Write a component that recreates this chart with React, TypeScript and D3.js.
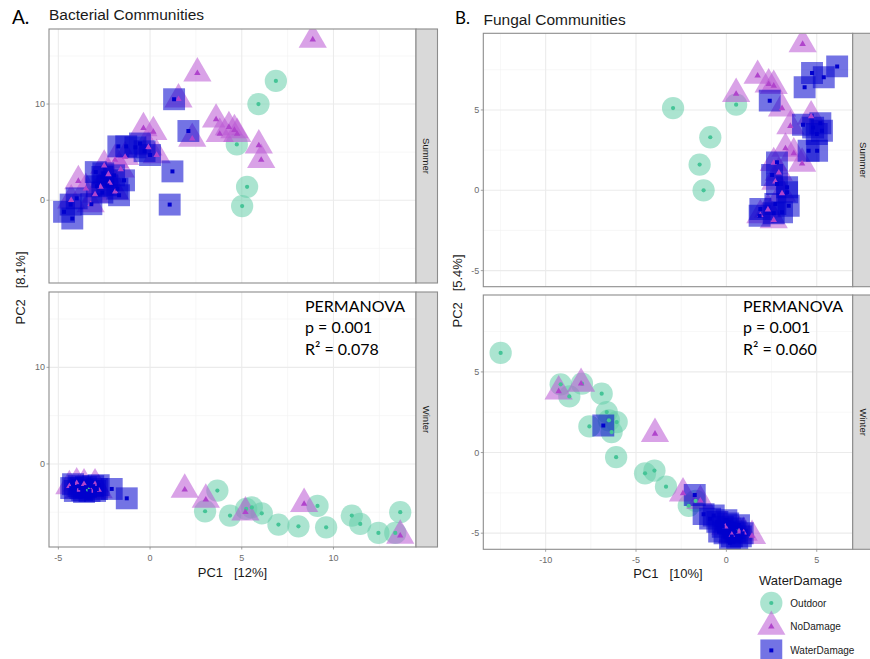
import React from "react";
import * as d3 from "d3";

// ---------- DATA ----------
const groups = ["Outdoor", "NoDamage", "WaterDamage"];
const seasons = ["Summer", "Winter"];

const bactSummerOutdoor = [[6.86,12.4],[5.91,10.0],[4.73,5.8],[5.29,1.4],[5.02,-0.6]];
const bactSummerNoDamage = [[8.87,16.7],[2.58,13.2],[1.55,10.5],[3.6,8.4],[3.8,6.9],[4.3,7.6],[4.6,7.3],[4.75,6.9],[5.93,5.7],[6.06,4.2],[2.3,6.4],[-0.36,7.5],[0.18,7.1],[-0.09,5.5],[0.36,4.7],[-1.91,4.2],[-1.36,4.5],[-2.27,2.7],[-3.91,2.0],[-3.24,-0.4],[-4.3,0.0],[-3.0,0.6],[-2.7,1.4],[-2.2,1.8],[-1.9,0.9],[-1.6,3.2],[-2.5,3.6],[-3.5,1.2]];
const bactSummerWater = [[-4.69,-1.2],[-4.24,-1.9],[-4.33,-0.45],[-4.0,0.2],[-3.2,-0.41],[-2.96,2.93],[-2.6,2.42],[-2.33,1.55],[-1.96,2.59],[-1.78,1.21],[-1.42,2.07],[-1.69,0.52],[-2.9,1.45],[-2.55,2.8],[-2.6,0.8],[-1.73,5.6],[-1.3,5.6],[-0.8,5.5],[-0.3,5.1],[0.0,4.7],[-0.55,5.9],[1.31,10.5],[2.09,7.2],[1.22,3.0],[1.07,-0.45]];

const bactWinterOutdoor = [[-3.38,-2.66],[3.67,-2.76],[3.0,-4.9],[4.36,-5.35],[5.24,-4.66],[5.55,-4.5],[6.09,-5.11],[7.0,-6.28],[8.09,-6.46],[9.13,-4.35],[9.6,-6.56],[11.0,-5.35],[11.46,-6.21],[12.45,-7.14],[13.64,-5.0],[13.37,-7.14]];
const bactWinterNoDamage = [[1.89,-2.66],[3.04,-3.7],[5.2,-5.0],[8.4,-4.14],[13.64,-7.42],[-4.4,-2.3],[-4.0,-2.0],[-3.6,-2.1],[-3.2,-2.8],[-2.8,-2.7],[-3.9,-2.7],[-3.0,-2.1]];
const bactWinterWater = [[-4.3,-2.5],[-4.1,-2.8],[-3.9,-2.3],[-3.7,-2.7],[-3.5,-2.4],[-3.3,-2.8],[-3.1,-2.3],[-2.9,-2.6],[-4.2,-2.1],[-3.6,-2.9],[-3.0,-2.8],[-2.8,-2.2],[-3.8,-2.5],[-2.09,-2.59],[-1.27,-3.56]];

const fungSummerOutdoor = [[-2.95,5.12],[-0.89,3.3],[-1.48,1.6],[-1.26,0.0],[0.54,5.33]];
const fungSummerNoDamage = [[4.22,9.1],[0.54,6.0],[1.73,7.13],[2.34,6.6],[2.62,6.5],[3.08,5.1],[3.54,4.0],[4.69,4.6],[3.27,2.6],[3.73,2.3],[4.19,1.66],[2.62,1.7],[2.71,0.54],[3.08,-0.2],[1.88,-1.55],[2.62,-1.85],[2.3,-1.2],[2.9,1.1]];
const fungSummerWater = [[4.74,7.3],[5.39,7.03],[6.13,7.71],[4.33,6.41],[2.4,5.58],[4.24,4.08],[5.2,4.17],[5.29,3.71],[4.55,2.46],[5.02,2.46],[2.8,1.74],[2.53,0.95],[2.8,0.39],[3.36,0.19],[3.36,-0.12],[2.71,-0.85],[3.45,-0.96],[1.88,-1.16],[1.84,-1.58],[2.62,-1.43],[3.08,-1.37],[5.0,3.5],[4.8,3.9]];

const fungWinterOutdoor = [[-12.49,6.18],[-9.17,4.23],[-8.69,3.48],[-7.99,4.27],[-6.9,3.65],[-6.62,2.51],[-7.58,1.62],[-6.07,1.89],[-6.35,1.27],[-6.5,2.0],[-6.1,-0.29],[-4.5,-1.29],[-3.98,-1.12],[-3.34,-2.12],[-2.08,-3.3],[0.59,-4.9],[-1.7,-3.0]];
const fungWinterNoDamage = [[-9.28,3.8],[-8.04,4.27],[-3.95,1.16],[-2.4,-2.53],[-1.44,-2.99],[-0.06,-4.6],[0.96,-4.96],[1.42,-5.17],[0.3,-5.1],[0.7,-4.9]];
const fungWinterWater = [[-6.81,1.68],[-1.75,-2.63],[-1.26,-3.82],[-0.9,-4.1],[-0.5,-4.3],[-0.2,-4.6],[0.1,-4.4],[0.4,-4.7],[0.7,-4.5],[0.9,-5.0],[0.3,-5.2],[-0.1,-5.0],[0.6,-5.4],[0.2,-5.6],[-0.4,-4.9],[0.8,-5.2],[0.0,-4.2],[0.5,-4.9],[-0.7,-3.9]];

const bactXTicks = [-5, 0, 5, 10];
const bactXMinor = [-2.5, 2.5, 7.5, 12.5];
const bactYTicks = [0, 10];
const bactYMinor = [-5, 5, 15];
const fungXTicks = [-10, -5, 0, 5];
const fungXMinor = [-12.5, -7.5, -2.5, 2.5];
const fungYTicks = [-5, 0, 5];
const fungYMinor = [-2.5, 2.5, 7.5];

const permanovaA = ["PERMANOVA", "p = 0.001", "R\u00B2 = 0.078"];
const permanovaB = ["PERMANOVA", "p = 0.001", "R\u00B2 = 0.060"];

// ---------- STYLE ----------
const colors: Record<string, string> = { Outdoor: "#66CDAA", NoDamage: "#BA55D3", WaterDamage: "#0000CD" };
const innerColors: Record<string, string> = { Outdoor: "#45C497", NoDamage: "#B044CC", WaterDamage: "#0000CD" };
const bigSym: Record<string, any> = {
  Outdoor: d3.symbol(d3.symbolCircle, 390),
  NoDamage: d3.symbol(d3.symbolTriangle, 345),
  WaterDamage: d3.symbol(d3.symbolSquare, 480),
};
const smallSym: Record<string, any> = {
  Outdoor: d3.symbol(d3.symbolCircle, 14),
  NoDamage: d3.symbol(d3.symbolTriangle, 18),
  WaterDamage: d3.symbol(d3.symbolSquare, 16),
};
const FONT = "'Liberation Sans', Arial, sans-serif";

type Pt = number[];

function Panel(props: any) {
  const { id, x, y, x0, x1, y0, y1, xTicks, xMinor, yTicks, yMinor, series, strip, showX } = props;
  return (
    <g>
      <defs>
        <clipPath id={id}>
          <rect x={x0} y={y0} width={x1 - x0} height={y1 - y0} />
        </clipPath>
      </defs>
      <rect x={x0} y={y0} width={x1 - x0} height={y1 - y0} fill="#fff" />
      {xMinor.map((v: number) => (
        <line key={"xm" + v} x1={x(v)} x2={x(v)} y1={y0} y2={y1} stroke="#F2F2F2" strokeWidth={0.6} />
      ))}
      {yMinor.map((v: number) => (
        <line key={"ym" + v} x1={x0} x2={x1} y1={y(v)} y2={y(v)} stroke="#F2F2F2" strokeWidth={0.6} />
      ))}
      {xTicks.map((v: number) => (
        <line key={"xM" + v} x1={x(v)} x2={x(v)} y1={y0} y2={y1} stroke="#EBEBEB" strokeWidth={1.1} />
      ))}
      {yTicks.map((v: number) => (
        <line key={"yM" + v} x1={x0} x2={x1} y1={y(v)} y2={y(v)} stroke="#EBEBEB" strokeWidth={1.1} />
      ))}
      <g clipPath={`url(#${id})`}>
        {series.map((s: any) =>
          s.points.map((p: Pt, i: number) => (
            <path key={s.group + "b" + i} d={bigSym[s.group]()} transform={`translate(${x(p[0])},${y(p[1])})`} fill={colors[s.group]} fillOpacity={0.55} />
          ))
        )}
        {series.map((s: any) =>
          s.points.map((p: Pt, i: number) => (
            <path key={s.group + "s" + i} d={smallSym[s.group]()} transform={`translate(${x(p[0])},${y(p[1])})`} fill={innerColors[s.group]} />
          ))
        )}
      </g>
      <rect x={x0} y={y0} width={x1 - x0} height={y1 - y0} fill="none" stroke="#8C8C8C" strokeWidth={1.1} />
      {/* strip */}
      <rect x={x1} y={y0} width={21.5} height={y1 - y0} fill="#D9D9D9" stroke="#8C8C8C" strokeWidth={1.1} />
      <text transform={`translate(${x1 + 10.75},${(y0 + y1) / 2}) rotate(90)`} textAnchor="middle" dominantBaseline="central" fontFamily={FONT} fontSize={9.5} fill="#1A1A1A">{strip}</text>
      {/* y axis */}
      {yTicks.map((v: number) => (
        <g key={"yt" + v}>
          <line x1={x0 - 2.5} x2={x0} y1={y(v)} y2={y(v)} stroke="#8C8C8C" strokeWidth={0.8} />
          <text x={x0 - 4} y={y(v)} textAnchor="end" dominantBaseline="central" fontFamily={FONT} fontSize={9} fill="#6B6B6B">{v}</text>
        </g>
      ))}
      {showX && xTicks.map((v: number) => (
        <g key={"xt" + v}>
          <line x1={x(v)} x2={x(v)} y1={y1} y2={y1 + 2.5} stroke="#8C8C8C" strokeWidth={0.8} />
          <text x={x(v)} y={y1 + 13.5} textAnchor="middle" fontFamily={FONT} fontSize={9} fill="#6B6B6B">{v}</text>
        </g>
      ))}
    </g>
  );
}

function Permanova({ x0, y0, lines }: any) {
  return (
    <g>
      {lines.map((l: string, i: number) => (
        <text key={i} x={x0} y={y0 + i * 21.7} fontFamily="Lato, 'Open Sans', sans-serif" fontSize={16} fill="#000">{l}</text>
      ))}
    </g>
  );
}

export default function App() {
  // Bacterial (A) layout
  const ax = d3.scaleLinear().domain([-5.51, 14.5]).range([49, 416]);
  const ayTop = d3.scaleLinear().domain([-8.6, 17.8]).range([283, 29]);
  const ayBot = d3.scaleLinear().domain([-8.6, 17.8]).range([547, 292]);
  // Fungal (B) layout
  const bx = d3.scaleLinear().domain([-13.45, 6.99]).range([483.3, 852.7]);
  const byTop = d3.scaleLinear().domain([-6.0, 9.77]).range([286.7, 33.3]);
  const byBot = d3.scaleLinear().domain([-6.0, 9.77]).range([549.3, 295]);

  const mk = (a: Pt[], b: Pt[], c: Pt[]) => [
    { group: groups[0], points: a },
    { group: groups[1], points: b },
    { group: groups[2], points: c },
  ];

  return (
    <svg width={870} height={659} style={{ position: "absolute", left: 0, top: 0, background: "#fff" }}>
      <rect width={870} height={659} fill="#fff" />
      <Panel id="cA1" x={ax} y={ayTop} x0={49} x1={416} y0={29} y1={283} xTicks={bactXTicks} xMinor={bactXMinor} yTicks={bactYTicks} yMinor={bactYMinor} series={mk(bactSummerOutdoor, bactSummerNoDamage, bactSummerWater)} strip={seasons[0]} showX={false} />
      <Panel id="cA2" x={ax} y={ayBot} x0={49} x1={416} y0={292} y1={547} xTicks={bactXTicks} xMinor={bactXMinor} yTicks={bactYTicks} yMinor={bactYMinor} series={mk(bactWinterOutdoor, bactWinterNoDamage, bactWinterWater)} strip={seasons[1]} showX={true} />
      <Panel id="cB1" x={bx} y={byTop} x0={483.3} x1={852.7} y0={33.3} y1={286.7} xTicks={fungXTicks} xMinor={fungXMinor} yTicks={fungYTicks} yMinor={fungYMinor} series={mk(fungSummerOutdoor, fungSummerNoDamage, fungSummerWater)} strip={seasons[0]} showX={false} />
      <Panel id="cB2" x={bx} y={byBot} x0={483.3} x1={852.7} y0={295} y1={549.3} xTicks={fungXTicks} xMinor={fungXMinor} yTicks={fungYTicks} yMinor={fungYMinor} series={mk(fungWinterOutdoor, fungWinterNoDamage, fungWinterWater)} strip={seasons[1]} showX={true} />

      {/* titles */}
      <text x={12} y={23.5} fontFamily="Lato, sans-serif" fontSize={19} fill="#000">A.</text>
      <text x={49} y={19.8} fontFamily={FONT} fontSize={15.5} fill="#1A1A1A">Bacterial Communities</text>
      <text x={455} y={24.3} fontFamily="Lato, sans-serif" fontSize={17} fill="#000">B.</text>
      <text x={483.5} y={24.8} fontFamily={FONT} fontSize={15.5} fill="#1A1A1A">Fungal Communities</text>

      {/* axis titles */}
      <text x={232.5} y={577} textAnchor="middle" fontFamily={FONT} fontSize={13} fill="#1A1A1A" style={{ whiteSpace: "pre" }}>{"PC1   [12%]"}</text>
      <text x={668} y={578} textAnchor="middle" fontFamily={FONT} fontSize={13} fill="#1A1A1A" style={{ whiteSpace: "pre" }}>{"PC1   [10%]"}</text>
      <text transform="translate(24.5,288) rotate(-90)" textAnchor="middle" fontFamily={FONT} fontSize={13} fill="#1A1A1A" style={{ whiteSpace: "pre" }}>{"PC2   [8.1%]"}</text>
      <text transform="translate(461.5,291) rotate(-90)" textAnchor="middle" fontFamily={FONT} fontSize={13} fill="#1A1A1A" style={{ whiteSpace: "pre" }}>{"PC2   [5.4%]"}</text>

      <Permanova x0={305} y0={311.7} lines={permanovaA} />
      <Permanova x0={743} y0={311.7} lines={permanovaB} />

      {/* legend */}
      <text x={759} y={584.5} fontFamily={FONT} fontSize={13} fill="#1A1A1A">WaterDamage</text>
      {groups.map((g, i) => (
        <g key={g} transform={`translate(771.3,${603 + i * 23.7})`}>
          <path d={bigSym[g]()} fill={colors[g]} fillOpacity={0.55} />
          <path d={smallSym[g]()} fill={innerColors[g]} />
          <text x={19} y={0} dominantBaseline="central" fontFamily={FONT} fontSize={10} fill="#1A1A1A">{g}</text>
        </g>
      ))}
    </svg>
  );
}
